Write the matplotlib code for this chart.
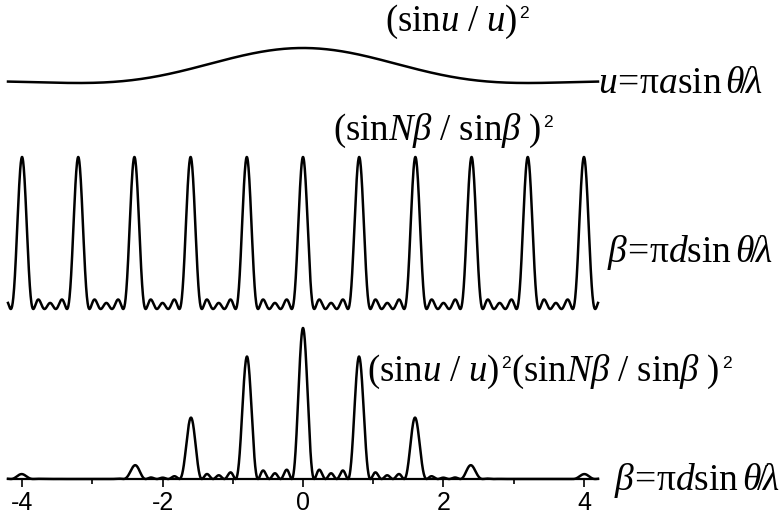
import numpy as np
import matplotlib
matplotlib.use("Agg")
import matplotlib.pyplot as plt

# ---- data (parameters) ----
N_SLITS = 5              # 3 secondary maxima between principal maxima
ORDER_SPACING = 0.8      # principal maxima at multiples of 0.8
ENVELOPE_ZERO = 3.2      # first zero of the single-slit envelope (missing 4th order)
X_RANGE = (-4.2, 4.2)
N_POINTS = 3001
tick_values = [-4, -2, 0, 2, 4]
tick_labels = ["-4", "-2", "0", "2", "4"]
minor_tick_values = [-3, -1, 1, 3]

x = np.linspace(X_RANGE[0], X_RANGE[1], N_POINTS)
u = np.pi * x / ENVELOPE_ZERO
beta = np.pi * x / ORDER_SPACING
envelope = np.sinc(u / np.pi) ** 2
sb = np.sin(beta)
with np.errstate(divide="ignore", invalid="ignore"):
    grating = (np.sin(N_SLITS * beta) / sb) ** 2 / N_SLITS ** 2
grating = np.where(np.abs(sb) < 1e-9, 1.0, grating)
product = envelope * grating

# ---- figure ----
plt.rcParams["mathtext.fontset"] = "custom"
plt.rcParams["mathtext.rm"] = "Liberation Serif"
plt.rcParams["mathtext.it"] = "Liberation Serif:italic"
plt.rcParams["mathtext.sf"] = "Liberation Sans"
plt.rcParams["font.family"] = ["Liberation Sans", "DejaVu Sans"]

W, H = 782, 516
fig = plt.figure(figsize=(W / 100, H / 100), dpi=100)

def ax_rect(y0_px, y1_px):
    left = 8 / W
    width = 590 / W
    bottom = (H - y0_px) / H
    height = (y0_px - y1_px) / H
    return [left, bottom, width, height]

lw = 1.8
ax_top = fig.add_axes(ax_rect(83, 48))
ax_mid = fig.add_axes(ax_rect(309, 157))
ax_bot = fig.add_axes(ax_rect(479, 328))

for ax, y in [(ax_top, envelope), (ax_mid, grating), (ax_bot, product)]:
    ax.plot(x, y, color="black", lw=lw, clip_on=False, solid_joinstyle="round")
    ax.set_xlim(*X_RANGE)
    ax.set_ylim(0, 1)
    for s in ax.spines.values():
        s.set_visible(False)
    ax.set_yticks([])
    ax.set_xticks([])
    ax.patch.set_alpha(0)

ax_bot.spines["bottom"].set_visible(True)
ax_bot.spines["bottom"].set_linewidth(1.6)
ax_bot.set_xticks(tick_values)
ax_bot.set_xticklabels(tick_labels)
ax_bot.set_xticks(minor_tick_values, minor=True)
ax_bot.tick_params(axis="x", which="major", direction="out", length=6, width=1.2,
                   labelsize=18, pad=3)
ax_bot.tick_params(axis="x", which="minor", direction="out", length=3.5, width=1.2)

# ---- text overlay in pixel coordinates ----
ov = fig.add_axes([0, 0, 1, 1])
ov.set_xlim(0, W)
ov.set_ylim(H, 0)
ov.axis("off")
ov.patch.set_alpha(0)

fs = 26.5
fs_lab = 27
fs_sq = 12.5

p_env = r"$(\mathrm{sin}u\ /\ u)$"
p_grt = r"$(\mathrm{sin}N\beta\ /\ \mathrm{sin}\beta\ )$"
lab_u = r"$u\!=\!\mathrm{\pi}a\mathrm{sin}\,\theta\!/\!\lambda$"
lab_b = r"$\beta\!=\!\mathrm{\pi}d\mathrm{sin}\,\theta\!/\!\lambda$"


def formula(x0, yc, parts):
    first = ov.text(x0, yc, parts[0], fontsize=fs, ha="left", va="center")
    prev_main = first
    sq = ov.annotate("2", xy=(1, 1), xycoords=first, xytext=(1.5, -2),
                     textcoords="offset points", ha="left", va="top",
                     fontsize=fs_sq, family="Liberation Sans")
    for p in parts[1:]:
        t = ov.annotate(p, xy=(1, 0), xycoords=(sq, prev_main), xytext=(0, 0),
                        textcoords="offset points", ha="left", va="bottom",
                        fontsize=fs)
        sq = ov.annotate("2", xy=(1, 1), xycoords=t, xytext=(1.5, -2),
                         textcoords="offset points", ha="left", va="top",
                         fontsize=fs_sq, family="Liberation Sans")
        prev_main = t


formula(385, 22, [p_env])
formula(333, 131, [p_grt])
formula(367, 372, [p_env, p_grt])

ov.text(598, 83, lab_u, fontsize=fs_lab, ha="left", va="center")
ov.text(607, 252, lab_b, fontsize=fs_lab, ha="left", va="center")
ov.text(614, 480, lab_b, fontsize=fs_lab, ha="left", va="center")

fig.savefig("out.png", dpi=100)
